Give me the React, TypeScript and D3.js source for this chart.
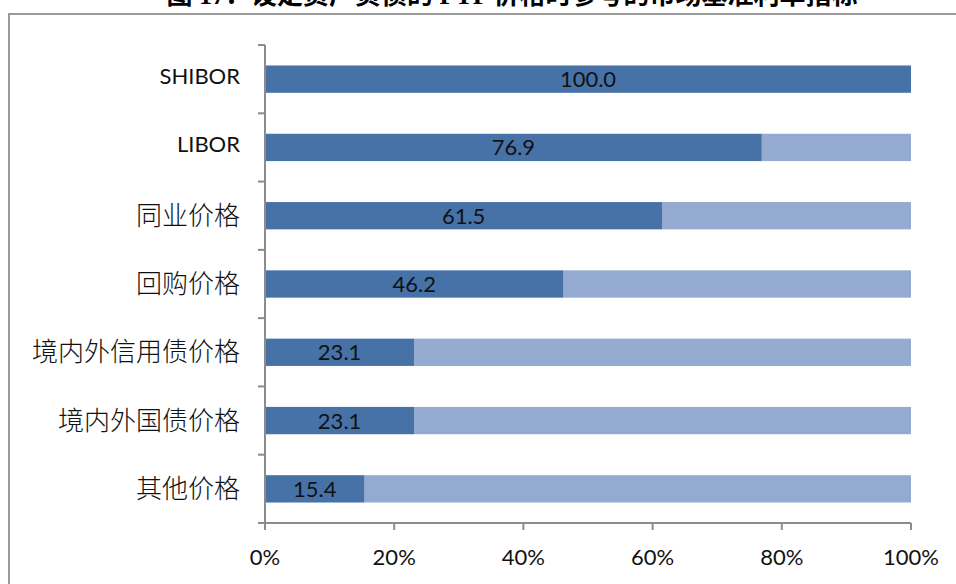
import React, { useEffect, useRef } from "react";
import * as d3 from "d3";

const categories = [
  "SHIBOR",
  "LIBOR",
  "同业价格",
  "回购价格",
  "境内外信用债价格",
  "境内外国债价格",
  "其他价格",
];
const values = [100.0, 76.9, 61.5, 46.2, 23.1, 23.1, 15.4];
const xTicks = [0, 20, 40, 60, 80, 100];
const title = "图 17：设定资产负债的 FTP 价格时参考的市场基准利率指标";

const WIDTH = 956;
const HEIGHT = 584;
const PLOT = { LEFT: 265, RIGHT: 911, TOP: 45, BOTTOM: 523 };
const DARK = "#4672A8";
const LIGHT = "#94AAD1";
const AXIS = "#8C8C8C";
const FONT = "Lato, 'Noto Sans CJK SC', sans-serif";

const isCJK = (s: string) => /[\u4e00-\u9fff]/.test(s);

const App = () => {
  const svgRef = useRef<SVGSVGElement>(null);

  useEffect(() => {
    const svg = d3.select(svgRef.current);
    svg.selectAll("*").remove();

    // outer frame, cut off on the right and bottom
    svg
      .append("rect")
      .attr("x", 9)
      .attr("y", 14)
      .attr("width", 1200)
      .attr("height", 1200)
      .attr("fill", "none")
      .attr("stroke", "#9a9a9a")
      .attr("stroke-width", 2);

    svg
      .append("text")
      .attr("x", 512)
      .attr("y", 4)
      .attr("text-anchor", "middle")
      .attr("font-family", "'Liberation Serif', 'Noto Sans CJK SC', serif")
      .attr("font-weight", "bold")
      .attr("font-size", 26)
      .text(title);

    const x = d3.scaleLinear().domain([0, 100]).range([PLOT.LEFT, PLOT.RIGHT]);
    const y = d3
      .scaleBand()
      .domain(categories)
      .range([PLOT.TOP, PLOT.BOTTOM])
      .paddingInner(0.6)
      .paddingOuter(0.3);

    const rows = categories.map((c, i) => ({ cat: c, v: values[i] }));

    // remainder (light) segments
    svg
      .append("g")
      .selectAll("rect")
      .data(rows)
      .join("rect")
      .attr("x", (d) => x(d.v))
      .attr("y", (d) => y(d.cat)!)
      .attr("width", (d) => x(100) - x(d.v))
      .attr("height", y.bandwidth())
      .attr("fill", LIGHT);

    // value (dark) segments
    svg
      .append("g")
      .selectAll("rect")
      .data(rows)
      .join("rect")
      .attr("x", x(0))
      .attr("y", (d) => y(d.cat)!)
      .attr("width", (d) => x(d.v) - x(0))
      .attr("height", y.bandwidth())
      .attr("fill", DARK);

    // data labels
    svg
      .append("g")
      .selectAll("text")
      .data(rows)
      .join("text")
      .attr("x", (d) => (x(0) + x(d.v)) / 2)
      .attr("y", (d) => y(d.cat)! + y.bandwidth() / 2 + 8)
      .attr("text-anchor", "middle")
      .attr("font-family", FONT)
      .attr("font-size", 22)
      .attr("fill", "#111")
      .text((d) => d.v.toFixed(1));

    // y axis with ticks at category boundaries
    const step = (PLOT.BOTTOM - PLOT.TOP) / categories.length;
    const yAxis = svg.append("g");
    yAxis
      .append("line")
      .attr("x1", PLOT.LEFT)
      .attr("x2", PLOT.LEFT)
      .attr("y1", PLOT.TOP)
      .attr("y2", PLOT.BOTTOM)
      .attr("stroke", AXIS)
      .attr("stroke-width", 2);
    yAxis
      .selectAll("line.tick")
      .data(d3.range(categories.length))
      .join("line")
      .attr("class", "tick")
      .attr("x1", PLOT.LEFT - 7)
      .attr("x2", PLOT.LEFT)
      .attr("y1", (i) => PLOT.TOP + i * step)
      .attr("y2", (i) => PLOT.TOP + i * step)
      .attr("stroke", AXIS)
      .attr("stroke-width", 2);
    yAxis
      .selectAll("text")
      .data(categories)
      .join("text")
      .attr("x", 240)
      .attr("y", (d) => y(d)! + y.bandwidth() / 2 + (isCJK(d) ? 9 : 5))
      .attr("text-anchor", "end")
      .attr("font-family", FONT)
      .attr("font-size", (d) => (isCJK(d) ? 26 : 22))
      .attr("font-weight", (d) => (isCJK(d) ? 300 : 400))
      .attr("fill", "#111")
      .text((d) => d);

    // x axis
    const xAxis = svg.append("g");
    xAxis
      .append("line")
      .attr("x1", PLOT.LEFT - 7)
      .attr("x2", PLOT.RIGHT)
      .attr("y1", PLOT.BOTTOM)
      .attr("y2", PLOT.BOTTOM)
      .attr("stroke", AXIS)
      .attr("stroke-width", 2);
    xAxis
      .selectAll("line.tick")
      .data(xTicks)
      .join("line")
      .attr("class", "tick")
      .attr("x1", (d) => x(d))
      .attr("x2", (d) => x(d))
      .attr("y1", PLOT.BOTTOM)
      .attr("y2", PLOT.BOTTOM + 7)
      .attr("stroke", AXIS)
      .attr("stroke-width", 2);
    xAxis
      .selectAll("text")
      .data(xTicks)
      .join("text")
      .attr("x", (d) => x(d))
      .attr("y", PLOT.BOTTOM + 42)
      .attr("text-anchor", "middle")
      .attr("font-family", FONT)
      .attr("font-size", 22)
      .attr("fill", "#111")
      .text((d) => `${d}%`);
  }, []);

  return (
    <svg
      ref={svgRef}
      width={WIDTH}
      height={HEIGHT}
      style={{ position: "absolute", left: 0, top: 0, background: "#fff" }}
    />
  );
};

export default App;
